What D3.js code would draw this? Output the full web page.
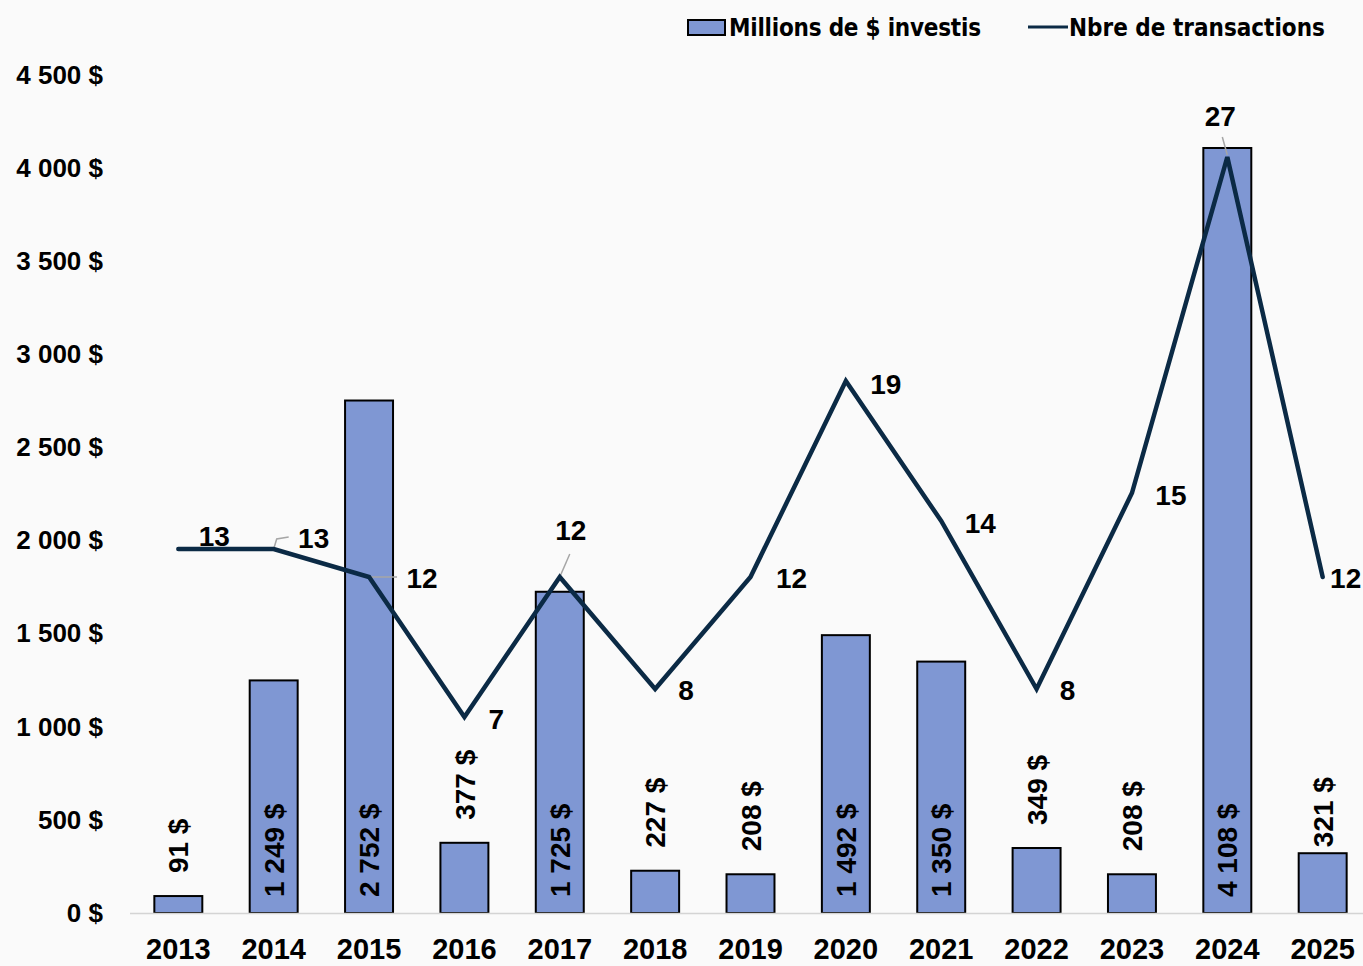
<!DOCTYPE html>
<html>
<head>
<meta charset="utf-8">
<script src="https://cdn.jsdelivr.net/npm/d3@7"></script>
<style>
  html, body { margin: 0; padding: 0; background: #fafafa; }
  svg { display: block; font-family: "Liberation Sans", Arial, sans-serif; font-weight: bold; }
</style>
</head>
<body>
<svg id="chart" width="1363" height="966"></svg>
<script>
// data
var years = ['2013', '2014', '2015', '2016', '2017', '2018', '2019', '2020', '2021', '2022', '2023', '2024', '2025'];
var millions = [91, 1249, 2752, 377, 1725, 227, 208, 1492, 1350, 349, 208, 4108, 321];
var transactions = [13, 13, 12, 7, 12, 8, 12, 19, 14, 8, 15, 27, 12];
var yTicks = [0, 500, 1000, 1500, 2000, 2500, 3000, 3500, 4000, 4500];

// label placement (relative to the line point), leaders where excel drew them
var lineLabelPos = [
    { dx: 36, dy: -13 },
    { dx: 40, dy: -11, leader: [[0, 0], [3, -10], [15, -12]] },
    { dx: 53, dy: 1, leader: [[0, 0], [28, 0]] },
    { dx: 32, dy: 2 },
    { dx: 11, dy: -47, leader: [[0, 0], [10, -23]] },
    { dx: 31, dy: 1 },
    { dx: 41, dy: 1 },
    { dx: 40, dy: 3 },
    { dx: 39, dy: 2 },
    { dx: 31, dy: 1 },
    { dx: 39, dy: 2 },
    { dx: -7, dy: -41, leader: [[0, -2], [-5, -20]] },
    { dx: 23, dy: 1 }
];

var svg = d3.select('#chart');
var fmt = function (v) { return d3.format(',')(v).replace(/,/g, ' ') + ' $'; };

var x = d3.scaleBand()
    .domain(years)
    .range([130.5, 1370.5])
    .paddingInner(0.497)
    .paddingOuter(0.25);
var y = d3.scaleLinear()
    .domain([0, 4500])
    .range([913, 75]);
var y2 = d3.scaleLinear()
    .domain([0, 30])
    .range([913, 73]);

// y axis (labels only)
var yAxis = d3.axisLeft(y)
    .tickValues(yTicks)
    .tickSize(0)
    .tickPadding(0)
    .tickFormat(fmt);
var yg = svg.append('g')
    .attr('transform', 'translate(103, 0)')
    .call(yAxis);
yg.select('.domain').remove();
yg.selectAll('text')
    .attr('fill', '#000')
    .style('font-size', '26px')
    .style('font-family', '"Liberation Sans", Arial, sans-serif')
    .style('font-weight', 'bold');

// x axis
var xAxis = d3.axisBottom(x).tickSize(0).tickPadding(0);
var xg = svg.append('g')
    .attr('transform', 'translate(0, 913)')
    .call(xAxis);
xg.select('.domain').remove();
xg.selectAll('text')
    .attr('y', 46)
    .attr('dy', 0)
    .attr('fill', '#000')
    .style('font-size', '29px')
    .style('font-family', '"Liberation Sans", Arial, sans-serif')
    .style('font-weight', 'bold');

// bars
var bars = years.map(function (yr, i) { return { year: yr, value: millions[i] }; });
svg.selectAll('.bar')
    .data(bars)
    .enter().append('rect')
    .attr('class', 'bar')
    .attr('x', function (d) { return x(d.year); })
    .attr('y', function (d) { return y(d.value); })
    .attr('width', x.bandwidth())
    .attr('height', function (d) { return y(0) - y(d.value); })
    .attr('fill', '#7f97d3')
    .attr('stroke', '#000')
    .attr('stroke-width', 2);

svg.append('line')
    .attr('x1', 130).attr('x2', 1363)
    .attr('y1', 913.5).attr('y2', 913.5)
    .attr('stroke', '#d4d4d4')
    .attr('stroke-width', 1.5);

// bar labels: inside base when the bar is tall, above it otherwise
svg.selectAll('.bar-label')
    .data(bars)
    .enter().append('text')
    .attr('class', 'bar-label')
    .attr('transform', function (d) {
        var cx = x(d.year) + x.bandwidth() / 2;
        var inside = d.value > 1000;
        var gap = d.year === '2025' ? 6 : 23;
        var sy = inside ? y(0) - 16 : y(d.value) - gap;
        return 'translate(' + cx + ',' + sy + ') rotate(-90)';
    })
    .attr('dy', '0.36em')
    .attr('text-anchor', 'start')
    .style('font-size', '28px')
    .attr('fill', '#000')
    .text(function (d) { return fmt(d.value); });

// transactions line
var pts = years.map(function (yr, i) {
    return { year: yr, value: transactions[i], pos: lineLabelPos[i] };
});
var px = function (d) { return x(d.year) + x.bandwidth() / 2; };
var line = d3.line()
    .x(px)
    .y(function (d) { return y2(d.value); });

// leader lines
svg.selectAll('.leader')
    .data(pts.filter(function (d) { return d.pos.leader; }))
    .enter().append('path')
    .attr('class', 'leader')
    .attr('fill', 'none')
    .attr('stroke', '#a6a6a6')
    .attr('stroke-width', 1.5)
    .attr('d', function (d) {
        var ox = px(d), oy = y2(d.value);
        return d3.line()(d.pos.leader.map(function (p) { return [ox + p[0], oy + p[1]]; }));
    });

svg.append('path')
    .datum(pts)
    .attr('fill', 'none')
    .attr('stroke', '#0b2a45')
    .attr('stroke-width', 4.5)
    .attr('stroke-linecap', 'round')
    .attr('d', line);

svg.selectAll('.line-label')
    .data(pts)
    .enter().append('text')
    .attr('class', 'line-label')
    .attr('x', function (d) { return px(d) + d.pos.dx; })
    .attr('y', function (d) { return y2(d.value) + d.pos.dy; })
    .attr('dy', '0.36em')
    .attr('text-anchor', 'middle')
    .style('font-size', '28px')
    .attr('fill', '#000')
    .text(function (d) { return d.value; });

// legend
var legend = svg.append('g')
    .style('font-family', '"Liberation Sans Narrow", "DejaVu Sans Condensed", Arial, sans-serif')
    .style('font-size', '24px');
legend.append('rect')
    .attr('x', 688).attr('y', 20)
    .attr('width', 37).attr('height', 15)
    .attr('fill', '#7f97d3')
    .attr('stroke', '#000')
    .attr('stroke-width', 2);
legend.append('text')
    .attr('x', 729).attr('y', 27)
    .attr('dy', '0.36em')
    .attr('textLength', 252)
    .text('Millions de $ investis');
legend.append('line')
    .attr('x1', 1028).attr('x2', 1068)
    .attr('y1', 27).attr('y2', 27)
    .attr('stroke', '#0b2a45')
    .attr('stroke-width', 3);
legend.append('text')
    .attr('x', 1069).attr('y', 27)
    .attr('dy', '0.36em')
    .text('Nbre de transactions');
</script>
</body>
</html>
